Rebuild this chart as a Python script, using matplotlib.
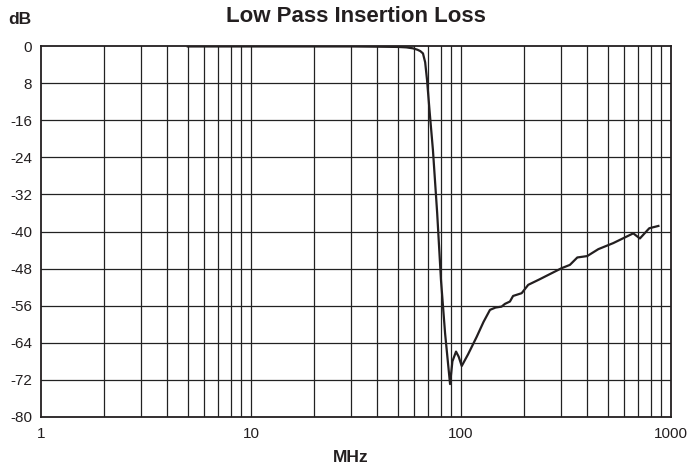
import numpy as np
import matplotlib
matplotlib.use('Agg')
import matplotlib.pyplot as plt
from matplotlib.ticker import FixedLocator, NullFormatter

plt.rcParams['font.family'] = ['Liberation Sans', 'DejaVu Sans']

# --- data (MHz, dB)
freq = [5, 10, 20, 30, 40, 50, 55, 59, 62, 64, 65.9, 67.5, 68.9, 71, 73.5, 77, 80.3, 84, 88.7,
        91, 94.7, 97.5, 100.8, 108, 118.8, 128, 137.4, 146, 156, 162, 171, 177, 194.5, 209,
        237, 270, 301.7, 330, 358, 399, 451, 531, 661, 711, 788, 871]
loss = [-0.1, -0.1, -0.1, -0.1, -0.15, -0.2, -0.3, -0.5, -0.8, -1.1, -1.6, -3.5, -7.3, -14.5,
        -22.4, -36, -50.5, -62, -72.9, -68, -65.9, -67, -69.0, -66.5, -62.7, -59.5, -56.9,
        -56.4, -56.2, -55.6, -55.1, -53.9, -53.3, -51.5, -50.3, -49.0, -47.9, -47.2, -45.6,
        -45.3, -43.8, -42.5, -40.4, -41.5, -39.3, -38.8]

yticks = [0, -8, -16, -24, -32, -40, -48, -56, -64, -72, -80]
ylabels = ['0', '8', '-16', '-24', '-32', '-40', '-48', '-56', '-64', '-72', '-80']
xticks = [1, 10, 100, 1000]
xlabels = ['1', '10', '100', '1000']

fig = plt.figure(figsize=(6.88, 4.66), dpi=100)
ax = fig.add_axes([41/688, 1 - 417/466, 630/688, 371/466])

ax.set_xscale('log')
ax.set_xlim(1, 1000)
ax.set_ylim(-80, 0)

# grid: every 1..9 per decade, every 8 dB
vgrid = [m * 10**e for e in range(0, 3) for m in range(2, 10)] + [10, 100]
for v in vgrid:
    ax.axvline(v, color='#222222', lw=0.9, zorder=1)
for h in yticks[1:-1]:
    ax.axhline(h, color='#222222', lw=0.9, zorder=1)

ax.plot(freq, loss, color='#231f20', lw=1.6, zorder=3)

ax.xaxis.set_major_locator(FixedLocator(xticks))
ax.xaxis.set_minor_formatter(NullFormatter())
ax.set_xticks(xticks)
ax.set_xticklabels(xlabels)
ax.set_yticks(yticks)
ax.set_yticklabels(ylabels)
ax.tick_params(which='both', length=0, labelsize=11, colors='#231f20')
ax.tick_params(axis='x', pad=7)
ax.tick_params(axis='y', pad=6.5)
for s in ax.spines.values():
    s.set_color('#231f20'); s.set_linewidth(1.3)

fig.text(356/688, 1 - 17/466, 'Low Pass Insertion Loss', ha='center', va='center',
         fontsize=16, fontweight='bold', color='#231f20')
fig.text(20/688, 1 - 20/466, 'dB', ha='center', va='center',
         fontsize=12.5, fontweight='bold', color='#231f20')
fig.text(351/688, 1 - 457/466, 'MHz', ha='center', va='center',
         fontsize=12.5, fontweight='bold', color='#231f20')

fig.savefig('out.png', dpi=100)
